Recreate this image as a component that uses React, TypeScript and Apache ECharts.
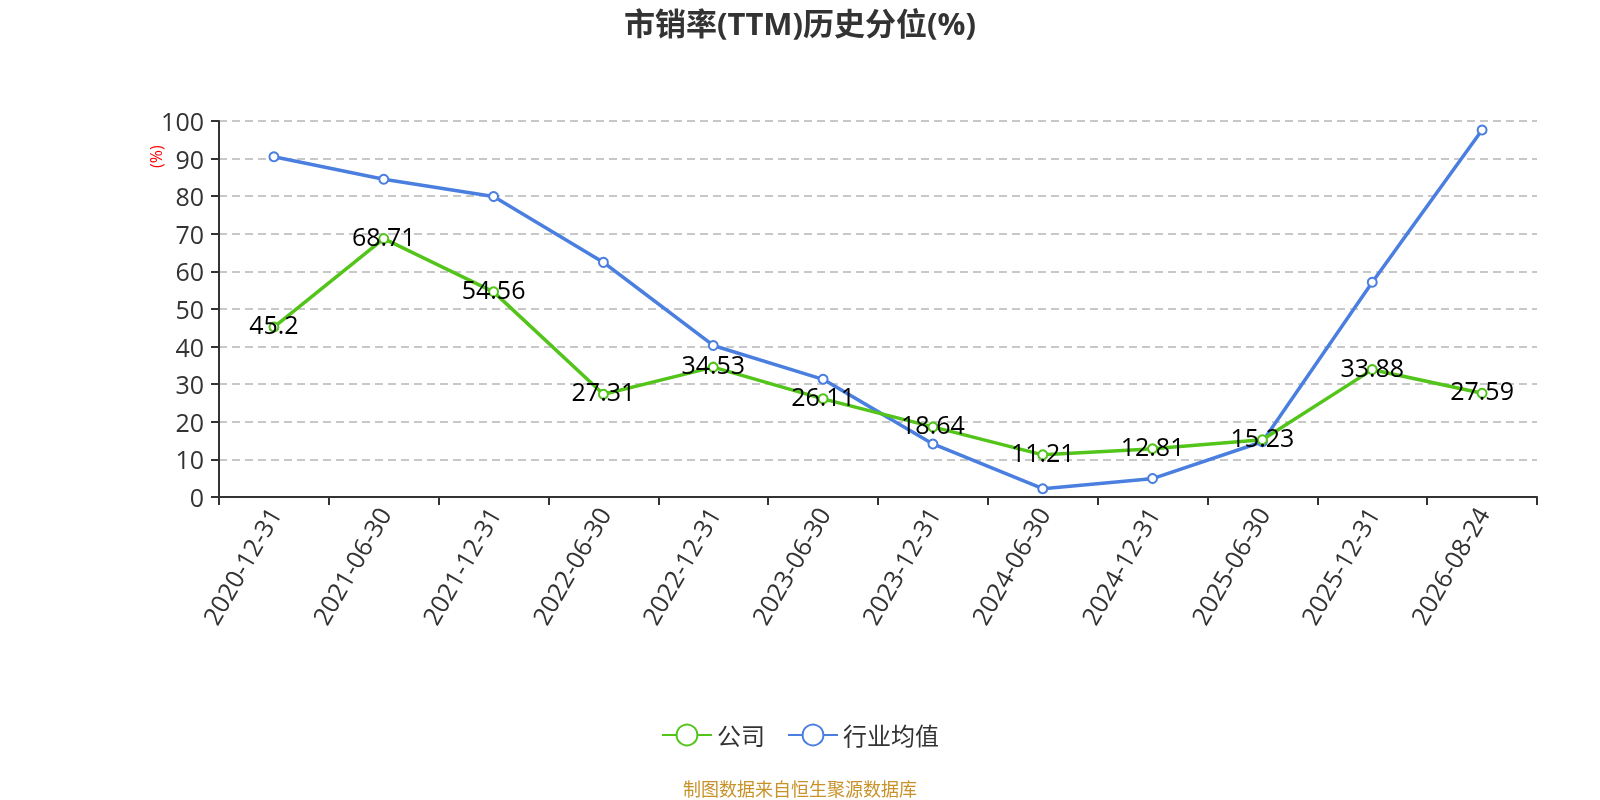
import React, { useEffect, useRef } from "react";
import * as echarts from "echarts";

const categories = [
  "2020-12-31", "2021-06-30", "2021-12-31", "2022-06-30", "2022-12-31", "2023-06-30",
  "2023-12-31", "2024-06-30", "2024-12-31", "2025-06-30", "2025-12-31", "2026-08-24",
];
const companyValues = [45.2, 68.71, 54.56, 27.31, 34.53, 26.11, 18.64, 11.21, 12.81, 15.23, 33.88, 27.59];
const industryValues = [90.5, 84.5, 79.9, 62.4, 40.3, 31.3, 14.1, 2.2, 4.9, 14.7, 57.1, 97.6];
const yTicks = { min: 0, max: 100, interval: 10 };

export default function App() {
  const ref = useRef<HTMLDivElement>(null);
  useEffect(() => {
    if (!ref.current) return;
    const chart = echarts.init(ref.current, undefined, { renderer: "svg" });
    const font = "'Open Sans', 'Noto Sans CJK SC', sans-serif";
    chart.setOption({
      animation: false,
      textStyle: { fontFamily: font },
      title: {
        text: "市销率(TTM)历史分位(%)",
        left: "center",
        top: 2,
        textStyle: { fontSize: 31, fontWeight: "bold", color: "#333", fontFamily: font },
      },
      grid: { left: 219, right: 63, top: 121, bottom: 303, containLabel: false },
      legend: {
        top: 718,
        left: "center",
        itemWidth: 50,
        itemHeight: 26,
        itemGap: 22,
        textStyle: { fontSize: 24, color: "#333", fontFamily: font },
        data: ["公司", "行业均值"],
      },
      graphic: [
        {
          type: "text",
          x: 156,
          y: 168,
          rotation: Math.PI / 2,
          style: {
            text: "(%)",
            fill: "#ff0000",
            fontSize: 16,
            fontFamily: font,
            textAlign: "left",
            textVerticalAlign: "middle",
          },
        },
        {
          type: "text",
          left: "center",
          top: 780,
          style: { text: "制图数据来自恒生聚源数据库", fill: "#c8922a", fontSize: 18, fontFamily: font },
        },
      ],
      xAxis: {
        type: "category",
        data: categories,
        boundaryGap: true,
        axisLine: { lineStyle: { color: "#333", width: 2 } },
        axisTick: { show: true, lineStyle: { color: "#333", width: 2 }, length: 8 },
        axisLabel: { rotate: 60, fontSize: 25, color: "#333", margin: 12, fontFamily: font, interval: 0 },
      },
      yAxis: {
        type: "value",
        min: yTicks.min,
        max: yTicks.max,
        interval: yTicks.interval,
        axisLine: { show: true, lineStyle: { color: "#333", width: 2 } },
        axisTick: { show: true, lineStyle: { color: "#333", width: 2 }, length: 8 },
        axisLabel: { fontSize: 25, color: "#333", margin: 15, fontFamily: font },
        splitLine: { lineStyle: { type: [8, 5], color: "#c8c8c8", width: 2 } },
      },
      series: [
        {
          name: "公司",
          type: "line",
          data: companyValues,
          symbol: "emptyCircle",
          symbolSize: 9,
          itemStyle: { color: "#52c41a", borderWidth: 2 },
          lineStyle: { width: 3.5, color: "#52c41a" },
          label: {
            show: true,
            position: "inside",
            offset: [0, -3],
            fontSize: 25,
            color: "#000",
            fontFamily: font,
          },
          z: 3,
        },
        {
          name: "行业均值",
          type: "line",
          data: industryValues,
          symbol: "emptyCircle",
          symbolSize: 9,
          itemStyle: { color: "#4a7fe0", borderWidth: 2 },
          lineStyle: { width: 3.5, color: "#4a7fe0" },
          z: 2,
        },
      ],
    });
    return () => chart.dispose();
  }, []);
  return (
    <div
      ref={ref}
      style={{ position: "fixed", left: 0, top: 0, width: 1600, height: 800 }}
    />
  );
}
